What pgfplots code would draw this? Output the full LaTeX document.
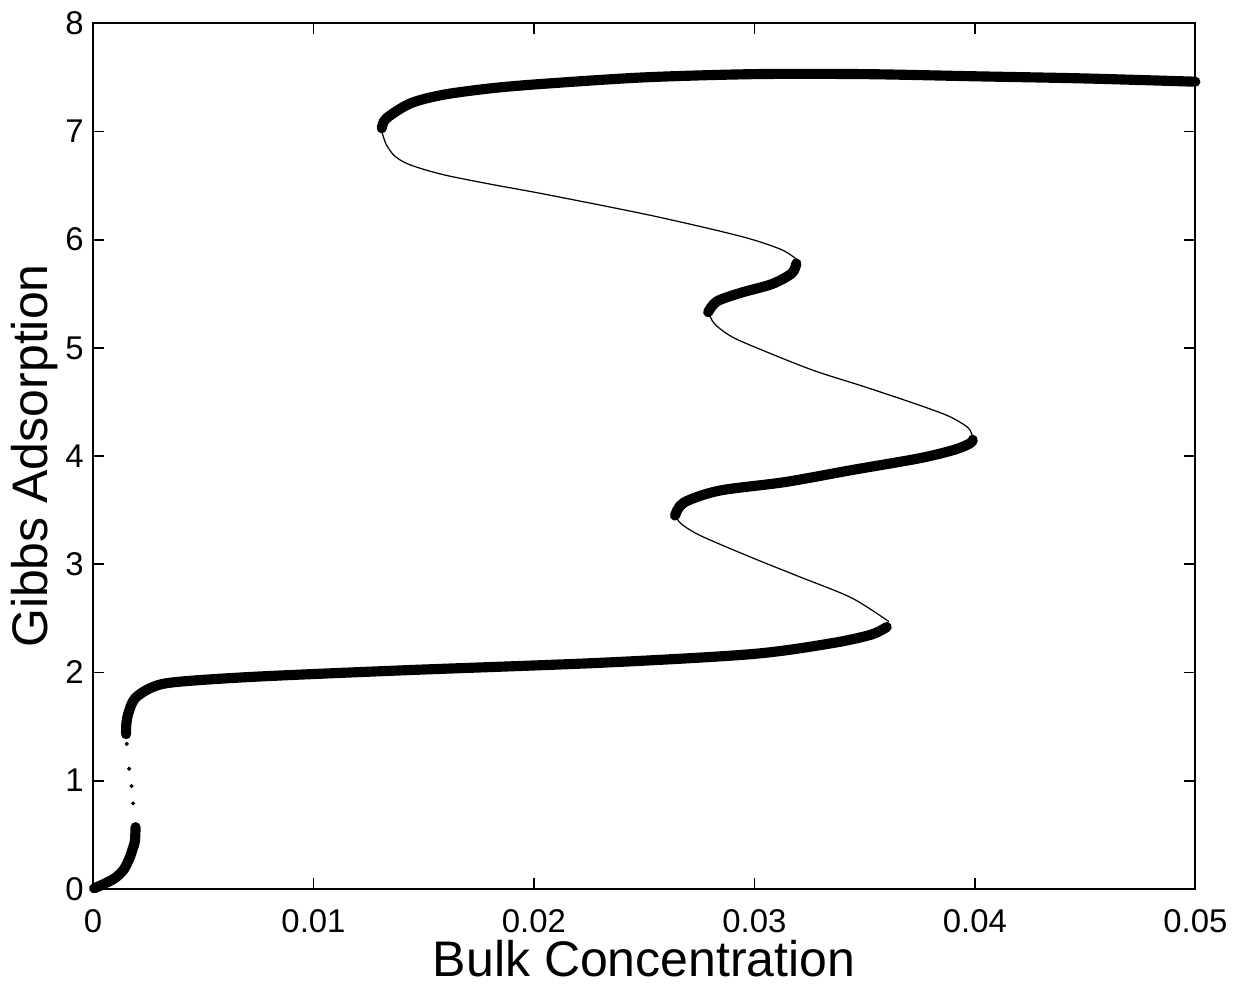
\documentclass[border=0pt]{standalone}
\usepackage{fontspec}
\setmainfont{Liberation Sans}
\usepackage{pgfplots}
\pgfplotsset{compat=1.18}

\begin{document}
\begin{tikzpicture}
\begin{axis}[
  scale only axis,
  width=11.08cm, height=8.70cm,
  xmin=0, xmax=0.05, ymin=0, ymax=8,
  xtick={0,0.01,0.02,0.03,0.04,0.05},
  xticklabels={0,0.01,0.02,0.03,0.04,0.05},
  ytick={0,1,...,8},
  scaled x ticks=false,
  tick align=inside,
  major tick length=1.1mm,
  axis line style={line width=0.5pt},
  every tick/.style={black, line width=0.5pt},
  /pgf/number format/assume math mode=true,
  tick label style={font=\fontsize{9.4}{11}\selectfont},
  xticklabel style={yshift=-0.8mm},
  yticklabel style={xshift=0.3mm},
  label style={font=\fontsize{14.3}{16}\selectfont},
  xlabel={Bulk Concentration},
  ylabel={Gibbs Adsorption},
  xlabel style={yshift=1.6mm},
  ylabel style={yshift=-1.7mm},
  clip=false,
  thick branch/.style={black, line width=2.9pt, line cap=round, line join=round, smooth, tension=0.5},
  thin branch/.style={black, line width=0.35pt, smooth, tension=0.5},
]
% stable branches (thick)
\addplot[thick branch] coordinates {(0.00005,0.005)(0.0005,0.045)(0.001,0.10)(0.0014,0.18)(0.00167,0.29)(0.0018,0.37)(0.0019,0.44)(0.00193,0.57)};
\addplot[thick branch] coordinates {(0.00150,1.43)(0.00151,1.52)(0.0016,1.62)(0.0019,1.76)(0.00265,1.86)(0.0037,1.91)(0.0073,1.96)(0.0141,2.02)(0.0231,2.09)(0.0299,2.17)(0.0335,2.27)(0.0353,2.35)(0.0360,2.42)};
\addplot[thick branch] coordinates {(0.0264,3.45)(0.0268,3.57)(0.0284,3.68)(0.0314,3.76)(0.0344,3.87)(0.0375,3.98)(0.0391,4.06)(0.0398,4.12)(0.0399,4.15)};
\addplot[thick branch] coordinates {(0.0279,5.33)(0.0283,5.43)(0.0294,5.51)(0.0308,5.59)(0.0317,5.69)(0.0319,5.78)};
\addplot[thick branch] coordinates {(0.0131,7.03)(0.0133,7.12)(0.0144,7.26)(0.0159,7.34)(0.0181,7.40)(0.0204,7.44)(0.025,7.50)(0.030,7.53)(0.035,7.53)(0.040,7.51)(0.045,7.49)(0.050,7.46)};
% unstable branches (thin)
\addplot[only marks, mark=*, mark size=0.35pt, black] coordinates {(0.00182,0.79)(0.00175,0.95)(0.00164,1.11)(0.00153,1.34)};
\addplot[thin branch] coordinates {(0.0361,2.47)(0.0344,2.69)(0.0321,2.88)(0.0299,3.06)(0.0276,3.26)(0.0267,3.37)(0.0264,3.45)};
\addplot[thin branch] coordinates {(0.0399,4.17)(0.0397,4.26)(0.0388,4.37)(0.0372,4.49)(0.0350,4.64)(0.0327,4.79)(0.03046,4.97)(0.0290,5.10)(0.0282,5.22)(0.0279,5.33)};
\addplot[thin branch] coordinates {(0.0319,5.82)(0.0312,5.91)(0.0294,6.03)(0.0254,6.22)(0.0205,6.42)(0.0181,6.51)(0.0159,6.60)(0.0144,6.69)(0.0137,6.77)(0.0133,6.88)(0.0131,7.0)};
\end{axis}
\end{tikzpicture}
\end{document}
